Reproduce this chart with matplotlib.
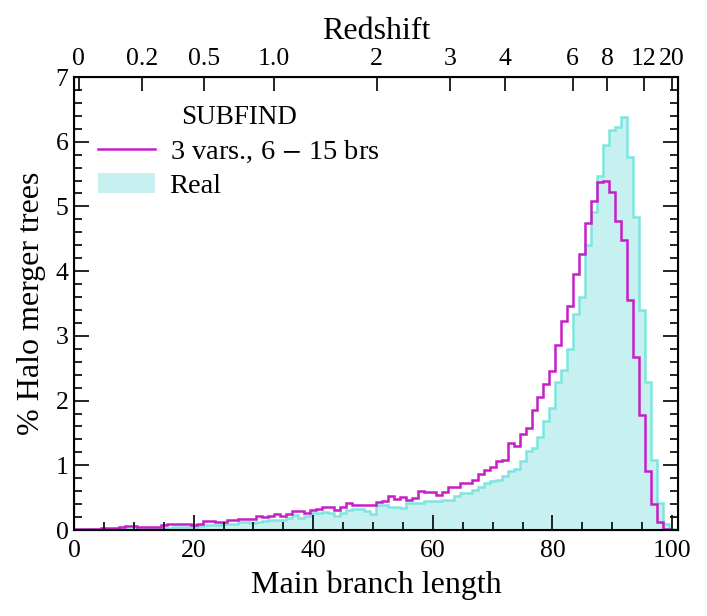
import matplotlib
matplotlib.use("Agg")
import matplotlib.pyplot as plt
from matplotlib.ticker import MultipleLocator
import numpy as np

# main branch length, one bin per integer length (0..100)
lengths = np.arange(0, 101)

real = [0.00, 0.005, 0.01, 0.01, 0.01, 0.01, 0.01, 0.01, 0.01, 0.02,
        0.02, 0.02, 0.02, 0.03, 0.03, 0.03, 0.03, 0.04, 0.04, 0.04,
        0.04, 0.06, 0.07, 0.07, 0.07, 0.09, 0.10, 0.10, 0.12, 0.13,
        0.11, 0.12, 0.14, 0.15, 0.15, 0.16, 0.18, 0.23, 0.18, 0.21,
        0.26, 0.27, 0.28, 0.26, 0.22, 0.27, 0.31, 0.32, 0.32, 0.30,
        0.25, 0.38, 0.38, 0.36, 0.36, 0.34, 0.41, 0.41, 0.42, 0.45,
        0.45, 0.45, 0.46, 0.47, 0.52, 0.57, 0.57, 0.62, 0.66, 0.73,
        0.75, 0.77, 0.84, 0.91, 0.94, 1.07, 1.22, 1.27, 1.43, 1.69,
        1.89, 2.28, 2.48, 2.79, 3.34, 3.60, 4.40, 4.91, 5.47, 5.95,
        6.18, 6.22, 6.38, 5.77, 4.84, 3.40, 2.28, 1.08, 0.42, 0.09,
        0.01]

gen = [0.01, 0.01, 0.02, 0.02, 0.02, 0.03, 0.03, 0.03, 0.04, 0.06,
       0.06, 0.05, 0.05, 0.05, 0.04, 0.08, 0.09, 0.09, 0.10, 0.10,
       0.08, 0.10, 0.14, 0.14, 0.12, 0.13, 0.16, 0.16, 0.17, 0.17,
       0.17, 0.21, 0.20, 0.21, 0.25, 0.22, 0.25, 0.30, 0.30, 0.27,
       0.31, 0.33, 0.36, 0.36, 0.31, 0.36, 0.42, 0.38, 0.38, 0.38,
       0.38, 0.44, 0.45, 0.52, 0.48, 0.51, 0.46, 0.49, 0.60, 0.58,
       0.58, 0.54, 0.59, 0.66, 0.66, 0.73, 0.72, 0.78, 0.87, 0.92,
       0.97, 1.07, 1.08, 1.34, 1.30, 1.49, 1.58, 1.85, 2.05, 2.26,
       2.45, 2.86, 3.23, 3.46, 3.95, 4.26, 4.74, 5.08, 5.37, 5.39,
       5.22, 4.77, 4.48, 3.56, 2.68, 1.78, 0.91, 0.40, 0.13, 0.02,
       0.00]

z_pos = [0.8, 11.4, 21.7, 33.4, 50.6, 62.9, 72.0, 83.4, 89.2, 95.3, 100.0]
z_lab = ["0", "0.2", "0.5", "1.0", "2", "3", "4", "6", "8", "12", "20"]

plt.rcParams['font.family'] = ['Liberation Serif', 'DejaVu Serif']
plt.rcParams['mathtext.fontset'] = 'stix'

fig = plt.figure(figsize=(7.07, 6.16), dpi=100)
ax = fig.add_axes([0.1047, 0.1396, 0.8543, 0.7354])

edges = np.append(lengths - 0.5, lengths[-1] + 0.5)
ax.stairs(real, edges, fill=True, color="#c6f1f0", label="Real")
ax.stairs(real, edges, color="#7ee6df", lw=1.8)
ax.stairs(gen, edges, color="#c81ec8", lw=1.8,
          label="3 vars., 6 $-$ 15 brs")

ax.set_xlim(0, 101)
ax.set_ylim(0, 7)
ax.xaxis.set_major_locator(MultipleLocator(20))
ax.xaxis.set_minor_locator(MultipleLocator(5))
ax.yaxis.set_major_locator(MultipleLocator(1))
ax.yaxis.set_minor_locator(MultipleLocator(0.2))
ax.tick_params(which="both", direction="in", right=True, width=1.2,
               labelsize=18.5)
ax.tick_params(which="major", length=11)
ax.tick_params(which="minor", length=5.5)
ax.tick_params(axis="x", pad=7)
ax.tick_params(axis="y", pad=4)
for s in ax.spines.values():
    s.set_linewidth(1.5)

ax.set_xlabel("Main branch length", fontsize=23, labelpad=6)
ax.set_ylabel("% Halo merger trees", fontsize=23, labelpad=7)

top = ax.twiny()
top.set_xlim(ax.get_xlim())
top.set_xticks(z_pos)
top.set_xticklabels(z_lab)
top.xaxis.set_minor_locator(plt.NullLocator())
top.tick_params(direction="in", length=10, width=1.2, labelsize=18.5, pad=5.3)
top.set_xlabel("Redshift", fontsize=23, labelpad=6)

h, l = ax.get_legend_handles_labels()
leg = ax.legend(h[::-1], l[::-1], loc="upper left", frameon=False,
                title="SUBFIND", fontsize=20.5, title_fontsize=19.5,
                bbox_to_anchor=(-0.002, 0.995), handlelength=2.0,
                handletextpad=0.5, labelspacing=0.3)

fig.savefig("out.png", dpi=100)
